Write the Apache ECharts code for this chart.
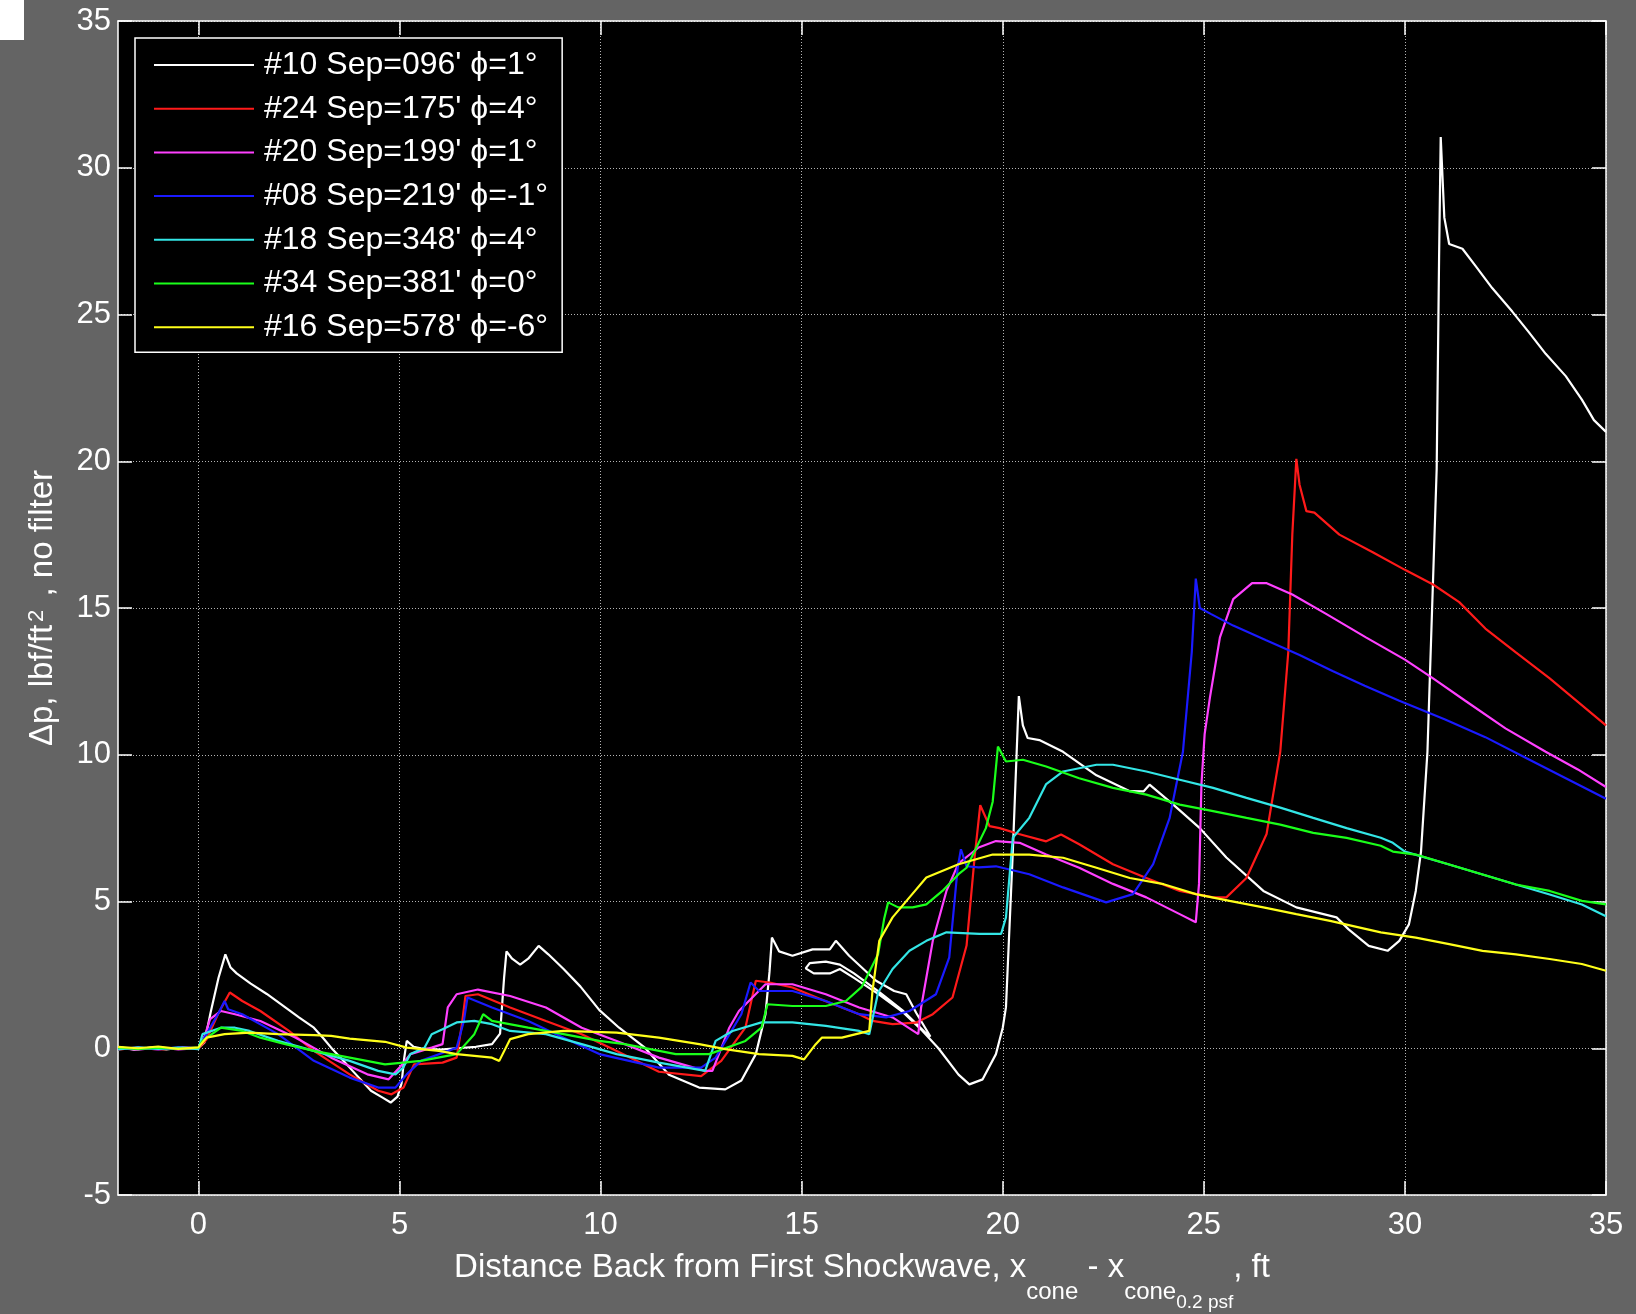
<!DOCTYPE html>
<html>
<head>
<meta charset="utf-8">
<script src="https://cdn.jsdelivr.net/npm/echarts@6/dist/echarts.min.js"></script>
<style>
html,body{margin:0;padding:0;background:#646464;}
#chart{width:1636px;height:1314px;}
</style>
</head>
<body>
<div id="chart"></div>
<script>
// ---- data (x = distance ft, y = delta p lbf/ft^2) ----
const seriesNames = ["#10 Sep=096' \u03D5=1\u00B0", "#24 Sep=175' \u03D5=4\u00B0", "#20 Sep=199' \u03D5=1\u00B0",
  "#08 Sep=219' \u03D5=-1\u00B0", "#18 Sep=348' \u03D5=4\u00B0", "#34 Sep=381' \u03D5=0\u00B0", "#16 Sep=578' \u03D5=-6\u00B0"];
const seriesColors = ['#ffffff', '#ff1a1a', '#ff40ff', '#1a1aff', '#33e6e6', '#1aff1a', '#ffff1a'];
const xTicks = [0, 5, 10, 15, 20, 25, 30, 35];

const run10 = [[-2,0.05],[-1.6,-0.05],[-1.2,0.02],[-0.8,-0.04],[-0.4,0.03],[0,0.0],[0.15,0.2],[0.3,1.2],[0.5,2.4],[0.67,3.2],[0.8,2.75],[0.95,2.55],[1.3,2.2],[1.7,1.85],[2.16,1.39],[2.5,1.05],[2.87,0.7],[3.1,0.35],[3.3,0.02],[3.76,-0.66],[4.29,-1.45],[4.6,-1.7],[4.78,-1.85],[4.95,-1.65],[5.05,-1.2],[5.12,-0.3],[5.18,0.25],[5.35,0.05],[5.53,0.0],[6.0,-0.05],[6.42,0.0],[6.9,0.05],[7.3,0.14],[7.5,0.5],[7.6,2.4],[7.66,3.3],[7.8,3.05],[8.0,2.85],[8.2,3.05],[8.46,3.49],[8.7,3.2],[9.08,2.7],[9.5,2.1],[9.97,1.3],[10.46,0.7],[11.1,0.02],[11.7,-0.9],[12.45,-1.34],[13.1,-1.4],[13.5,-1.1],[13.86,-0.2],[14.1,1.16],[14.2,2.6],[14.26,3.77],[14.44,3.3],[14.77,3.15],[15.27,3.37],[15.7,3.37],[15.85,3.66],[16.18,3.15],[16.85,2.3],[17.3,1.95],[17.6,1.84],[17.85,1.2],[18.2,0.4],[18.1,0.5],[17.5,1.3],[16.9,1.95],[16.3,2.55],[15.95,2.85],[15.6,2.95],[15.2,2.9],[15.1,2.72],[15.3,2.55],[15.7,2.55],[15.95,2.7],[16.3,2.4],[16.9,1.85],[17.5,1.25],[18.0,0.6],[18.4,0.0],[18.9,-0.9],[19.17,-1.23],[19.5,-1.06],[19.83,-0.2],[20.0,0.7],[20.08,1.4],[20.25,6.7],[20.4,12.0],[20.5,11.0],[20.62,10.57],[20.91,10.5],[21.5,10.1],[22.33,9.3],[23.16,8.76],[23.5,8.75],[23.65,8.98],[24.24,8.3],[24.9,7.5],[25.56,6.5],[26.48,5.36],[27.3,4.8],[28.3,4.46],[28.6,4.05],[29.1,3.49],[29.57,3.32],[29.86,3.66],[30.1,4.22],[30.27,5.36],[30.4,6.7],[30.56,10.1],[30.6,11.8],[30.79,19.75],[30.85,27.0],[30.89,31.05],[30.98,28.3],[31.1,27.4],[31.43,27.24],[31.76,26.65],[32.17,25.9],[32.67,25.1],[33.08,24.4],[33.5,23.66],[34.0,22.9],[34.4,22.1],[34.7,21.4],[35.0,21.0]];

const run24 = [[-2,-0.05],[-1.5,0.03],[-1,-0.05],[-0.5,0.0],[0,-0.02],[0.2,0.3],[0.5,1.2],[0.78,1.9],[1.09,1.61],[1.54,1.27],[2.25,0.59],[2.87,-0.09],[3.76,-0.89],[4.47,-1.45],[4.8,-1.57],[5.1,-1.34],[5.36,-0.55],[6.07,-0.49],[6.42,-0.32],[6.55,0.8],[6.64,1.78],[6.95,1.84],[7.75,1.39],[8.64,0.93],[9.53,0.48],[10.4,-0.09],[11.45,-0.8],[12.5,-0.95],[13.0,-0.43],[13.6,0.7],[13.86,2.3],[14.2,2.24],[14.77,2.07],[15.6,1.6],[16.43,1.16],[16.76,0.93],[17.26,0.82],[17.84,0.87],[18.26,1.16],[18.75,1.73],[19.1,3.5],[19.3,6.5],[19.44,8.28],[19.67,7.57],[19.92,7.5],[20.4,7.3],[21.08,7.05],[21.45,7.28],[21.9,6.95],[22.74,6.27],[23.57,5.8],[24.4,5.36],[25.23,5.14],[25.56,5.14],[26.06,5.8],[26.56,7.3],[26.9,10.1],[27.1,13.5],[27.2,17.5],[27.3,20.08],[27.38,19.2],[27.55,18.3],[27.75,18.25],[28.37,17.5],[29.2,16.9],[30.0,16.3],[30.7,15.8],[31.35,15.2],[32.0,14.3],[32.75,13.5],[33.6,12.6],[34.3,11.8],[35.0,11.0]];

const run20 = [[-2,0.0],[-1.5,-0.05],[-1,0.03],[-0.5,-0.04],[0,0.0],[0.15,0.4],[0.29,0.99],[0.56,1.27],[0.91,1.16],[1.54,0.93],[2.42,0.36],[3.3,-0.32],[4.2,-0.89],[4.73,-1.06],[5.0,-0.66],[5.27,-0.2],[5.8,0.02],[6.07,0.14],[6.2,1.39],[6.42,1.84],[6.95,2.0],[7.75,1.78],[8.64,1.39],[9.53,0.7],[10.4,0.25],[11.45,-0.32],[12.6,-0.77],[12.78,-0.77],[13.2,0.7],[13.44,1.27],[14.1,2.18],[14.77,2.18],[15.6,1.84],[16.43,1.39],[17.26,1.05],[17.9,0.48],[17.97,1.39],[18.26,3.66],[18.6,5.36],[18.9,6.3],[19.4,6.84],[19.83,7.06],[20.42,7.0],[21.08,6.6],[21.9,6.15],[22.74,5.6],[23.57,5.14],[24.4,4.57],[24.8,4.29],[24.88,5.6],[24.94,8.98],[25.02,10.7],[25.15,11.94],[25.4,14.0],[25.73,15.3],[26.2,15.85],[26.55,15.85],[27.2,15.46],[28.04,14.8],[29.03,14.0],[30.0,13.24],[30.7,12.6],[31.5,11.84],[32.5,10.9],[33.5,10.1],[34.3,9.5],[35.0,8.9]];

const run08 = [[-2,-0.03],[-1.5,0.02],[-1,-0.04],[-0.5,0.03],[0,0.0],[0.2,0.48],[0.5,1.2],[0.65,1.61],[0.74,1.33],[1.09,1.16],[1.98,0.48],[2.87,-0.43],[3.76,-1.0],[4.47,-1.34],[4.9,-1.34],[5.18,-0.89],[5.53,-0.43],[6.42,0.02],[6.6,0.93],[6.69,1.73],[7.3,1.39],[8.2,0.93],[9.08,0.36],[9.97,-0.2],[11.45,-0.66],[12.5,-0.66],[12.86,-0.32],[13.5,1.16],[13.73,2.24],[13.94,1.95],[14.77,1.95],[15.6,1.61],[16.43,1.16],[17.1,1.05],[17.68,1.27],[18.34,1.84],[18.67,3.1],[18.88,6.16],[18.96,6.78],[19.1,6.2],[19.4,6.16],[19.83,6.2],[20.66,5.93],[21.5,5.48],[22.57,4.97],[23.24,5.25],[23.74,6.27],[24.15,7.85],[24.48,10.1],[24.7,13.5],[24.8,16.0],[24.9,15.0],[25.17,14.8],[25.73,14.4],[26.55,13.9],[27.38,13.4],[28.2,12.85],[29.0,12.35],[29.86,11.84],[31.0,11.2],[32.0,10.6],[33.0,9.9],[34.0,9.2],[35.0,8.5]];

const run18 = [[-2,-0.04],[-1.5,0.03],[-1,-0.02],[-0.5,0.02],[0,-0.03],[0.1,0.48],[0.56,0.7],[0.91,0.7],[1.27,0.59],[1.98,0.25],[2.87,-0.09],[3.76,-0.43],[4.47,-0.77],[4.9,-0.89],[5.09,-0.66],[5.27,-0.2],[5.62,0.02],[5.8,0.48],[6.07,0.65],[6.42,0.88],[6.86,0.93],[7.3,0.82],[7.75,0.59],[8.64,0.48],[9.53,0.14],[10.4,-0.2],[11.45,-0.49],[12.6,-0.77],[12.86,0.25],[13.28,0.59],[14.0,0.88],[14.77,0.88],[15.6,0.76],[16.43,0.59],[16.68,0.48],[16.9,1.9],[17.26,2.7],[17.68,3.32],[18.1,3.66],[18.6,3.95],[19.42,3.9],[19.96,3.9],[20.08,4.46],[20.25,7.17],[20.66,7.85],[21.08,9.0],[21.5,9.43],[22.33,9.66],[22.74,9.66],[23.57,9.43],[24.4,9.15],[25.23,8.87],[26.06,8.53],[26.9,8.2],[27.72,7.85],[28.55,7.5],[29.4,7.17],[29.7,7.0],[30.0,6.7],[31.1,6.26],[31.93,5.92],[32.76,5.58],[33.6,5.24],[34.4,4.9],[35.0,4.5]];

const run34 = [[-2,0.03],[-1.5,-0.03],[-1,0.02],[-0.5,-0.02],[0,0.02],[0.1,0.25],[0.56,0.7],[1.09,0.59],[1.54,0.36],[2.16,0.14],[2.87,-0.09],[3.76,-0.32],[4.64,-0.55],[5.09,-0.49],[5.53,-0.43],[6.42,-0.2],[6.86,0.48],[7.08,1.16],[7.3,0.93],[8.2,0.7],[9.08,0.48],[9.97,0.25],[10.6,0.14],[11.87,-0.2],[12.7,-0.2],[13.6,0.25],[14.0,0.7],[14.15,1.5],[14.77,1.44],[15.6,1.44],[16.1,1.61],[16.5,2.1],[16.9,3.2],[17.05,4.4],[17.15,4.97],[17.4,4.8],[17.76,4.8],[18.1,4.9],[18.5,5.36],[18.9,5.93],[19.1,6.15],[19.58,7.5],[19.75,8.4],[19.88,10.28],[20.08,9.77],[20.5,9.83],[21.08,9.6],[21.9,9.2],[22.74,8.87],[23.57,8.64],[24.4,8.3],[25.23,8.08],[26.06,7.85],[26.9,7.62],[27.72,7.34],[28.55,7.17],[29.4,6.9],[29.7,6.7],[30.27,6.6],[31.1,6.26],[31.93,5.92],[32.76,5.58],[33.6,5.36],[34.4,5.02],[35.0,4.9]];

const run16 = [[-2,0.05],[-1.5,0.0],[-1,0.06],[-0.5,-0.02],[0,0.03],[0.2,0.36],[0.65,0.48],[1.27,0.53],[1.98,0.48],[2.87,0.45],[3.3,0.42],[3.76,0.33],[4.64,0.22],[5.18,0.02],[5.98,-0.09],[6.42,-0.2],[7.3,-0.32],[7.48,-0.43],[7.75,0.31],[8.2,0.48],[9.08,0.59],[10.4,0.53],[11.45,0.36],[12.45,0.14],[13.1,-0.03],[13.94,-0.2],[14.77,-0.26],[15.06,-0.38],[15.35,0.14],[15.5,0.36],[16.0,0.36],[16.68,0.59],[16.76,1.95],[16.93,3.66],[17.26,4.46],[17.68,5.14],[18.1,5.82],[18.9,6.27],[19.75,6.6],[20.66,6.6],[21.5,6.49],[22.33,6.15],[23.16,5.8],[24.0,5.59],[24.8,5.25],[25.64,5.02],[26.48,4.8],[27.3,4.57],[28.14,4.34],[29.4,3.95],[30.27,3.77],[31.1,3.55],[31.93,3.32],[32.76,3.2],[33.6,3.04],[34.4,2.87],[35.0,2.64]];

const allRuns = [run10, run24, run20, run08, run18, run34, run16];

// ---- chart ----
const FONT = "'Liberation Sans', Arial, Helvetica, sans-serif";
const chart = echarts.init(document.getElementById('chart'), null, {renderer: 'canvas'});
const gridLine = {show: true, lineStyle: {color: '#b4b4b4', type: [1, 2], width: 1}};
const axisLine = {show: true, onZero: false, lineStyle: {color: '#ffffff', width: 1.5}};
const tickStyle = {show: true, inside: true, length: 14, lineStyle: {color: '#ffffff', width: 1.5}};

const option = {
  backgroundColor: '#646464',
  animation: false,
  textStyle: {fontFamily: FONT},
  grid: {left: 118, top: 21, width: 1488, height: 1174, show: true, backgroundColor: '#000000', borderWidth: 0,
         containLabel: false, outerBoundsMode: 'none'},
  legend: {
    orient: 'vertical', left: 135, top: 38,
    padding: [11, 14, 9, 19], itemGap: 11.7, itemWidth: 100, itemHeight: 2, icon: 'rect',
    backgroundColor: '#000000', borderColor: '#ffffff', borderWidth: 1.5,
    textStyle: {color: '#ffffff', fontSize: 32, fontFamily: FONT, lineHeight: 32, padding: [0, 0, 0, 5]},
    data: seriesNames
  },
  xAxis: [{
    type: 'value', min: -2, max: 35, position: 'bottom',
    axisLine: axisLine,
    axisTick: Object.assign({customValues: xTicks}, tickStyle),
    axisLabel: {customValues: xTicks, color: '#ffffff', fontSize: 31, fontFamily: FONT, margin: 15},
    splitLine: gridLine,
    name: '{n|Distance Back from First Shockwave, x}{s|cone}{n| - x}{s|cone}{s2|0.2 psf}{n|, ft}',
    nameLocation: 'middle', nameGap: 56,
    nameTextStyle: {
      color: '#ffffff', fontFamily: FONT,
      rich: {
        n: {fontSize: 33, lineHeight: 33, verticalAlign: 'top', color: '#ffffff', fontFamily: FONT},
        s: {fontSize: 24, lineHeight: 24, verticalAlign: 'top', padding: [29, 0, 0, 0], color: '#ffffff', fontFamily: FONT},
        s2: {fontSize: 19, lineHeight: 19, verticalAlign: 'top', padding: [42, 0, 0, 0], color: '#ffffff', fontFamily: FONT}
      }
    }
  }, {
    type: 'value', min: -2, max: 35, position: 'top',
    axisLine: axisLine,
    axisTick: Object.assign({customValues: xTicks}, tickStyle),
    axisLabel: {show: false}, splitLine: {show: false}
  }],
  yAxis: [{
    type: 'value', min: -5, max: 35, interval: 5, position: 'left',
    axisLine: axisLine, axisTick: tickStyle,
    axisLabel: {color: '#ffffff', fontSize: 31, fontFamily: FONT, margin: 7},
    splitLine: gridLine,
    name: '{n|\u0394p, lbf/ft}{p|2}{n| , no filter}',
    nameLocation: 'middle', nameGap: 59,
    nameTextStyle: {
      color: '#ffffff', fontFamily: FONT,
      rich: {
        n: {fontSize: 33, lineHeight: 33, verticalAlign: 'bottom', color: '#ffffff', fontFamily: FONT},
        p: {fontSize: 22, lineHeight: 22, verticalAlign: 'top', padding: [0, 4, 17, 3], color: '#ffffff', fontFamily: FONT}
      }
    }
  }, {
    type: 'value', min: -5, max: 35, interval: 5, position: 'right',
    axisLine: axisLine, axisTick: tickStyle,
    axisLabel: {show: false}, splitLine: {show: false}
  }],
  graphic: [{type: 'rect', left: 0, top: 0, shape: {width: 24, height: 40}, style: {fill: '#ffffff'}}],
  series: allRuns.map((d, i) => ({
    name: seriesNames[i], type: 'line', data: d, xAxisIndex: 0, yAxisIndex: 0,
    symbol: 'none', showSymbol: false, smooth: false,
    lineStyle: {color: seriesColors[i], width: 2.2}, itemStyle: {color: seriesColors[i]},
    emphasis: {disabled: true}, z: 2 + i
  }))
};
chart.setOption(option);
</script>
</body>
</html>
